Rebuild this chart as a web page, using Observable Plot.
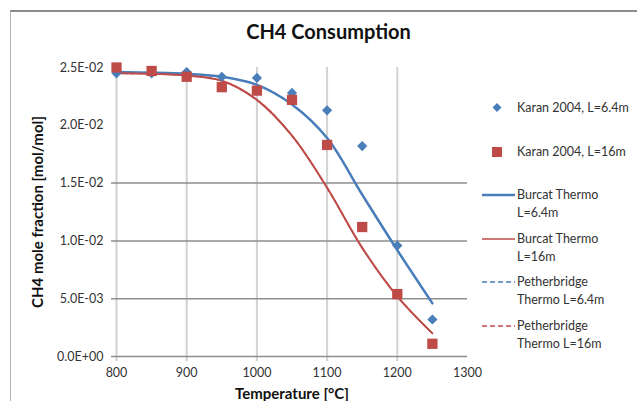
<!DOCTYPE html>
<html>
<head>
<meta charset="utf-8">
<script src="https://cdn.jsdelivr.net/npm/d3@7"></script>
<script src="https://cdn.jsdelivr.net/npm/@observablehq/plot@0.6"></script>
<style>
  html, body { margin: 0; padding: 0; background: #fff; }
  #wrap { position: relative; width: 637px; height: 401px; overflow: hidden; font-family: Lato, "Open Sans", sans-serif; }
  #frame { position: absolute; left: 10px; top: 10px; width: 700px; height: 500px; border-top: 2px solid #8c8c8c; border-left: 1px solid #b4b4b4; }
  #title { position: absolute; left: 0; width: 657px; top: 19px; text-align: center; font-size: 20px; font-weight: bold; color: #111; }
  #chart { position: absolute; left: 0; top: 0; }
  #chart svg g[aria-label="y-axis label"] text, #chart svg g[aria-label="x-axis label"] text { font-weight: bold; font-size: 15px; fill: #111; }
  #legend { position: absolute; left: 482px; top: 99px; font-size: 12.5px; color: #333; }
  .item { position: relative; height: 43.5px; }
  .sw { position: absolute; left: 0; top: 0; width: 34px; height: 18px; }
  .txt { position: absolute; left: 35px; top: 0; line-height: 18px; white-space: nowrap; }
</style>
</head>
<body>
<div id="wrap">
  <div id="frame"></div>
  <div id="chart"></div>
  <div id="title">CH4 Consumption</div>
  <div id="legend"></div>
</div>
<script>
const temps = [800, 850, 900, 950, 1000, 1050, 1100, 1150, 1200, 1250];
const karan64 = [0.0245, 0.0245, 0.0246, 0.0242, 0.0241, 0.0228, 0.0213, 0.0182, 0.0096, 0.0032];
const karan16 = [0.0250, 0.0247, 0.0242, 0.0233, 0.0230, 0.0222, 0.0183, 0.0112, 0.0054, 0.0011];
const burcat64 = [0.0246, 0.02455, 0.02445, 0.0242, 0.0235, 0.0218, 0.0189, 0.0140, 0.0092, 0.0046];
const burcat16 = [0.0245, 0.02445, 0.0243, 0.02385, 0.0222, 0.0191, 0.0146, 0.0094, 0.0052, 0.0020];
const peth64 = [0.0246, 0.02455, 0.02445, 0.0242, 0.0235, 0.0218, 0.0189, 0.0140, 0.0092, 0.0046];
const peth16 = [0.0245, 0.02445, 0.0243, 0.02385, 0.0222, 0.0191, 0.0146, 0.0094, 0.0052, 0.0020];

const xTicks = [800, 900, 1000, 1100, 1200, 1300];
const xGrid = [800, 900, 1000, 1100, 1200];
const yTicks = [0, 0.005, 0.01, 0.015, 0.02, 0.025];
const yTickLabels = ["0.0E+00", "5.0E-03", "1.0E-02", "1.5E-02", "2.0E-02", "2.5E-02"];
const yGrid = [0, 0.005, 0.01, 0.015];

const seriesNames = ["Karan 2004, L=6.4m", "Karan 2004, L=16m", "Burcat Thermo\nL=6.4m", "Burcat Thermo\nL=16m", "Petherbridge\nThermo L=6.4m", "Petherbridge\nThermo L=16m"];

const BLUE = "#4a7ebb", RED = "#be4b48";

const rows = arr => temps.map((t, i) => ({x: t, y: arr[i]}));

const chart = Plot.plot({
  width: 637,
  height: 401,
  marginLeft: 116,
  marginRight: 170,
  marginTop: 67,
  marginBottom: 45,
  style: {fontFamily: "Lato, 'Open Sans', sans-serif", fontSize: "12.5px", color: "#333", background: "transparent"},
  x: {domain: [800, 1300], ticks: xTicks, tickFormat: d => String(d), tickSize: 0, tickPadding: 12,
      label: "Temperature [°C]", labelAnchor: "center", labelOffset: 42, labelArrow: "none"},
  y: {domain: [0, 0.025], ticks: yTicks, tickFormat: d => yTickLabels[yTicks.indexOf(d)], tickSize: 0, tickPadding: 13,
      label: "CH4 mole fraction [mol/mol]", labelAnchor: "center", labelOffset: 84, labelArrow: "none"},
  marks: [
    Plot.ruleX(xGrid, {stroke: "#d2d2d2", strokeWidth: 2, insetBottom: -5}),
    Plot.ruleY(yGrid, {stroke: "#8e8e8e", strokeWidth: 1.5, insetLeft: -5}),
    Plot.line(rows(peth64), {x: "x", y: "y", stroke: BLUE, strokeWidth: 1.5, strokeDasharray: "4,3", curve: "catmull-rom"}),
    Plot.line(rows(peth16), {x: "x", y: "y", stroke: RED, strokeWidth: 1.5, strokeDasharray: "4,3", curve: "catmull-rom"}),
    Plot.line(rows(burcat64), {x: "x", y: "y", stroke: BLUE, strokeWidth: 2.5, curve: "catmull-rom"}),
    Plot.line(rows(burcat16), {x: "x", y: "y", stroke: RED, strokeWidth: 2, curve: "catmull-rom"}),
    Plot.dot(rows(karan64), {x: "x", y: "y", symbol: "diamond2", r: 4.6, fill: BLUE, stroke: "none"}),
    Plot.dot(rows(karan16), {x: "x", y: "y", symbol: "square", r: 5.8, fill: RED, stroke: "none"})
  ]
});
document.getElementById("chart").appendChild(chart);

// Legend
const legendKinds = [
  {kind: "diamond", color: BLUE},
  {kind: "square", color: RED},
  {kind: "line", color: BLUE, width: 2.5},
  {kind: "line", color: RED, width: 1.5},
  {kind: "dash", color: BLUE, width: 1.3},
  {kind: "dash", color: RED, width: 1.3}
];
const legend = document.getElementById("legend");
seriesNames.forEach((name, i) => {
  const k = legendKinds[i];
  const item = document.createElement("div");
  item.className = "item";
  let sw;
  if (k.kind === "diamond") sw = `<svg class="sw" viewBox="0 0 34 18"><path d="M15,4 L19.5,8.5 L15,13 L10.5,8.5Z" fill="${k.color}"/></svg>`;
  else if (k.kind === "square") sw = `<svg class="sw" viewBox="0 0 34 18"><rect x="10" y="4" width="10" height="10" fill="${k.color}"/></svg>`;
  else sw = `<svg class="sw" viewBox="0 0 34 18"><line x1="0" x2="33" y1="9" y2="9" stroke="${k.color}" stroke-width="${k.width}" ${k.kind === "dash" ? 'stroke-dasharray="5,3"' : ''}/></svg>`;
  item.innerHTML = sw + `<div class="txt">${name.replace("\n", "<br>")}</div>`;
  legend.appendChild(item);
});
</script>
</body>
</html>
